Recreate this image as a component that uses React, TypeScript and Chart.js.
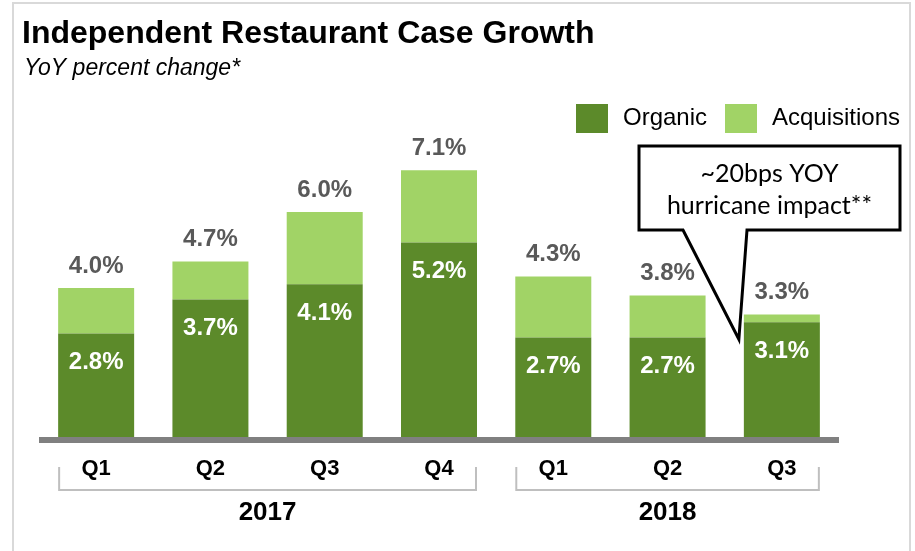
import React, { useEffect, useRef } from "react";
import { Chart, registerables } from "chart.js";
Chart.register(...registerables);

const quarters = ["Q1", "Q2", "Q3", "Q4", "Q1", "Q2", "Q3"];
const years = ["2017", "2018"];
const yearStart = [0, 4];
const yearEnd = [3, 6];
const organic = [2.8, 3.7, 4.1, 5.2, 2.7, 2.7, 3.1];
const acquisitions = [1.2, 1.0, 1.9, 1.9, 1.6, 1.1, 0.2];
const totals = [4.0, 4.7, 6.0, 7.1, 4.3, 3.8, 3.3];
const seriesNames = ["Organic", "Acquisitions"];
const calloutLines = ["~20bps YOY", "hurricane impact**"];
const calloutIndex = 6;
const calloutValue = 2.65;

const TITLE = "Independent Restaurant Case Growth";
const SUBTITLE = "YoY percent change*";
const FONT = '"Liberation Sans", Arial, sans-serif';
const DARK = "#5C8A2A";
const LIGHT = "#A1D366";

const decorPlugin = {
  id: "decor",
  beforeDraw(chart: any) {
    const ctx = chart.ctx;
    ctx.save();
    ctx.fillStyle = "#ffffff";
    ctx.fillRect(0, 0, chart.width, chart.height);
    ctx.strokeStyle = "#d9d9d9";
    ctx.lineWidth = 2;
    ctx.beginPath();
    ctx.moveTo(13, 551);
    ctx.lineTo(13, 3);
    ctx.lineTo(910, 3);
    ctx.lineTo(910, 551);
    ctx.stroke();
    // title
    ctx.fillStyle = "#000";
    ctx.textBaseline = "alphabetic";
    ctx.textAlign = "left";
    ctx.font = `bold 32px ${FONT}`;
    ctx.fillText(TITLE, 22, 43);
    ctx.font = `italic 23px ${FONT}`;
    ctx.fillText(SUBTITLE, 24, 75);
    // legend
    const lx = [576, 725];
    const colors = [DARK, LIGHT];
    ctx.font = `24px ${FONT}`;
    ctx.textBaseline = "middle";
    for (let i = 0; i < 2; i++) {
      ctx.fillStyle = colors[i];
      ctx.fillRect(lx[i], 104, 32, 29);
      ctx.fillStyle = "#000";
      ctx.fillText(seriesNames[i], lx[i] + 47, 118);
    }
    ctx.restore();
  },
  afterDatasetsDraw(chart: any) {
    const ctx = chart.ctx;
    const xs = chart.scales.x;
    const ys = chart.scales.y;
    const meta0 = chart.getDatasetMeta(0);
    const meta1 = chart.getDatasetMeta(1);
    ctx.save();
    // axis baseline
    ctx.fillStyle = "#808080";
    ctx.fillRect(xs.left, xs.top - 3, xs.right - xs.left, 6);
    ctx.textAlign = "center";
    ctx.textBaseline = "middle";
    ctx.font = `bold 24px ${FONT}`;
    for (let i = 0; i < quarters.length; i++) {
      const b0 = meta0.data[i];
      const b1 = meta1.data[i];
      ctx.fillStyle = "#ffffff";
      ctx.fillText(organic[i].toFixed(1) + "%", b0.x, b0.y + 29);
      ctx.fillStyle = "#595959";
      ctx.fillText(totals[i].toFixed(1) + "%", b1.x, b1.y - 22);
    }
    // year brackets
    const bw = meta0.data[0].width;
    ctx.strokeStyle = "#bfbfbf";
    ctx.lineWidth = 2;
    for (let g = 0; g < years.length; g++) {
      const x1 = xs.getPixelForValue(yearStart[g]) - bw / 2 + 1;
      const x2 = xs.getPixelForValue(yearEnd[g]) + bw / 2 - 1;
      ctx.beginPath();
      ctx.moveTo(x1, 467);
      ctx.lineTo(x1, 490);
      ctx.lineTo(x2, 490);
      ctx.lineTo(x2, 467);
      ctx.stroke();
      ctx.fillStyle = "#000";
      ctx.font = `bold 26px ${FONT}`;
      ctx.fillText(years[g], (x1 + x2) / 2, 513);
    }
    // callout
    const tipX = xs.getPixelForValue(calloutIndex) - bw / 2 - 5;
    const tipY = ys.getPixelForValue(calloutValue);
    const L = 639, R = 900, T = 146, B = 230;
    ctx.beginPath();
    ctx.moveTo(L, T);
    ctx.lineTo(R, T);
    ctx.lineTo(R, B);
    ctx.lineTo(747, B);
    ctx.lineTo(tipX, tipY);
    ctx.lineTo(683, B);
    ctx.lineTo(L, B);
    ctx.closePath();
    ctx.fillStyle = "#fff";
    ctx.fill();
    ctx.strokeStyle = "#000";
    ctx.lineWidth = 3;
    ctx.lineJoin = "miter";
    ctx.stroke();
    ctx.fillStyle = "#000";
    ctx.font = `25px Lato, ${FONT}`;
    ctx.fillText(calloutLines[0], (L + R) / 2, 174);
    ctx.fillText(calloutLines[1], (L + R) / 2, 206);
    ctx.restore();
  },
};

export default function App() {
  const ref = useRef<HTMLCanvasElement>(null);
  useEffect(() => {
    const chart = new Chart(ref.current!, {
      type: "bar",
      data: {
        labels: quarters,
        datasets: [
          { label: seriesNames[0], data: organic, backgroundColor: DARK, borderWidth: 0 },
          { label: seriesNames[1], data: acquisitions, backgroundColor: LIGHT, borderWidth: 0 },
        ],
      },
      options: {
        animation: false,
        responsive: false,
        devicePixelRatio: 1,
        layout: { padding: { left: 39, right: 76, top: 136, bottom: 51 } },
        datasets: { bar: { categoryPercentage: 1, barPercentage: 0.665 } } as any,
        plugins: { legend: { display: false }, tooltip: { enabled: false }, title: { display: false } },
        scales: {
          x: {
            stacked: true,
            grid: { display: false },
            border: { display: false },
            ticks: { color: "#000", font: { family: FONT, size: 22, weight: "bold" }, padding: 8, maxRotation: 0 },
            afterFit: (s: any) => { s.height = 60; },
          },
          y: { stacked: true, display: false, min: 0, max: 8 },
        },
      },
      plugins: [decorPlugin],
    });
    return () => chart.destroy();
  }, []);
  return (
    <div style={{ position: "absolute", left: 0, top: 0, width: 915, height: 551 }}>
      <canvas ref={ref} width={915} height={551} style={{ display: "block" }} />
    </div>
  );
}
